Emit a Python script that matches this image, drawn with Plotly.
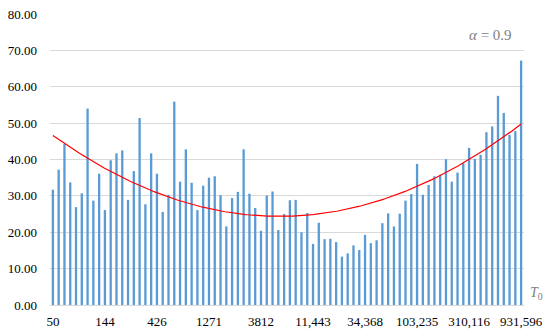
import numpy as np
import plotly.graph_objects as go

# Tick labels shown on x axis (every 9th category)
tick_labels = ["50", "144", "426", "1271", "3812", "11,443", "34,368", "103,235", "310,116", "931,596"]

# Bar values (82 categories, left to right)
values = [
    31.7, 37.2, 44.3, 33.7, 26.9, 30.7, 54.0, 28.7, 36.1, 26.1,
    39.8, 41.7, 42.5, 28.9, 36.8, 51.4, 27.7, 41.7, 36.1, 25.6,
    30.3, 55.9, 33.9, 42.8, 33.6, 26.1, 32.8, 35.0, 35.4, 30.2,
    21.6, 29.4, 31.1, 42.8, 30.6, 26.7, 20.4, 30.1, 31.2, 20.6,
    25.0, 28.8, 28.9, 20.0, 25.3, 16.8, 22.6, 18.1, 18.2, 17.3,
    13.3, 14.2, 16.4, 15.1, 19.3, 17.0, 17.8, 22.5, 25.2, 21.6,
    25.1, 28.7, 30.5, 38.8, 30.3, 33.0, 35.4, 35.8, 40.1, 33.9,
    36.4, 39.0, 43.2, 40.2, 41.3, 47.5, 49.1, 57.5, 52.8, 46.8,
    47.8, 67.2,
]

y_ticks = [0, 10, 20, 30, 40, 50, 60, 70, 80]

x = np.arange(len(values))
tick_idx = list(range(0, len(values), 9))

# polynomial (order 2) trendline like Excel
coef = np.polyfit(x, values, 2)
xf = np.linspace(0, len(values) - 1, 300)
yf = np.polyval(coef, xf)

W, H = 550, 334
ML, MR, MT, MB = 50, 26, 14, 29
pw = W - ML - MR
ph = H - MT - MB


def px_to_paper(px, py):
    return (px - ML) / pw, (H - MB - py) / ph


serif = "Liberation Serif"

fig = go.Figure()
fig.add_trace(go.Bar(x=x, y=values, marker=dict(color="#5B9BD5", line=dict(width=0)),
                     showlegend=False, hoverinfo="skip"))
fig.add_trace(go.Scatter(x=xf, y=yf, mode="lines", line=dict(color="#FF0000", width=1.2),
                         showlegend=False, hoverinfo="skip"))

ax1, ay1 = px_to_paper(514, 35)
ax2, ay2 = px_to_paper(536, 293)

fig.update_layout(
    width=W, height=H,
    margin=dict(l=ML, r=MR, t=MT, b=MB, autoexpand=False),
    paper_bgcolor="white", plot_bgcolor="white",
    bargap=0.6,
    font=dict(family=serif, size=13, color="#000000"),
    xaxis=dict(range=[-0.5, len(values) - 0.5], tickmode="array",
               tickvals=tick_idx, ticktext=tick_labels, automargin=False,
               showgrid=False, zeroline=False, showline=True, linecolor="#d9d9d9", linewidth=1,
               ticks="", tickfont=dict(family=serif, size=13, color="#000"), ticklabelstandoff=4),
    yaxis=dict(range=[0, 80], tickmode="array", tickvals=y_ticks, automargin=False,
               ticktext=[f"{v:.2f}" for v in y_ticks],
               showgrid=True, gridcolor="#d9d9d9", gridwidth=1, zeroline=False,
               showline=False, ticks="", tickfont=dict(family=serif, size=13, color="#000"),
               ticklabelstandoff=12),
    annotations=[
        dict(text="<i>α</i> = 0.9", x=ax1, y=ay1, xref="paper", yref="paper", showarrow=False,
             font=dict(family=serif, size=15, color="#808080"), xanchor="right", yanchor="middle"),
        dict(text="<i>T</i><sub>0</sub>", x=ax2, y=ay2, xref="paper", yref="paper", showarrow=False,
             font=dict(family=serif, size=14, color="#808080"), xanchor="center", yanchor="middle"),
    ],
)

fig.write_html("out.html", config={"displayModeBar": False},
               post_script="document.body.style.margin='0px';")
